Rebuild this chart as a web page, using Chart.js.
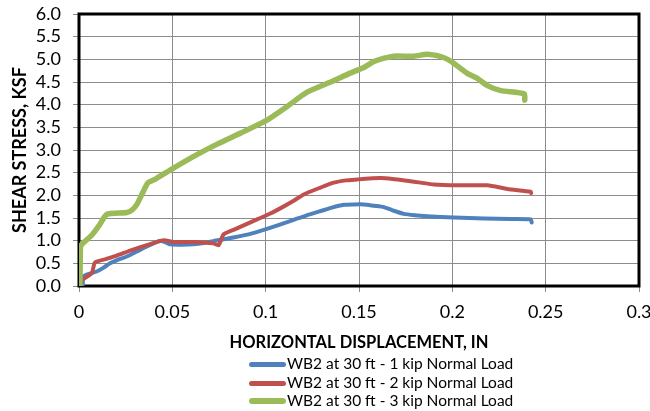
<!DOCTYPE html>
<html>
<head>
<meta charset="utf-8">
<script src="https://cdn.jsdelivr.net/npm/chart.js@4/dist/chart.umd.min.js"></script>
<style>
  html, body { margin: 0; padding: 0; background: #fff; }
  #wrap { position: relative; width: 650px; height: 411px; }
  #c { position: absolute; left: 0; top: 0; }
  .leg { position: absolute; left: 249px; font-family: Lato, "Open Sans", sans-serif; font-size: 15.5px; color: #000; white-space: nowrap; line-height: 18px; }
  .leg span.sw { display: inline-block; width: 37px; height: 5px; border-radius: 3px; vertical-align: middle; margin-right: 1px; position: relative; top: -1px; }
</style>
</head>
<body>
<div id="wrap">
  <canvas id="c" width="650" height="411"></canvas>
  <div id="legend"></div>
</div>
<script>
// ---- data ----
const seriesNames = [
  'WB2 at 30 ft - 1 kip Normal Load',
  'WB2 at 30 ft - 2 kip Normal Load',
  'WB2 at 30 ft - 3 kip Normal Load'
];
const seriesColors = ['#4F81BD', '#C0504D', '#9BBB59'];

const x1kip = [0.002, 0.0025, 0.0095, 0.013, 0.0166, 0.021, 0.0256, 0.031, 0.0363, 0.0405, 0.0435, 0.0465, 0.0488, 0.055, 0.0614, 0.067, 0.072, 0.0828, 0.0918, 0.1007, 0.108, 0.115, 0.122, 0.1293, 0.1355, 0.1418, 0.147, 0.1526, 0.158, 0.1633, 0.168, 0.174, 0.18, 0.1866, 0.2009, 0.217, 0.2313, 0.242, 0.2425];
const y1kip = [0.02, 0.22, 0.32, 0.40, 0.50, 0.58, 0.65, 0.76, 0.87, 0.95, 1.00, 0.96, 0.92, 0.91, 0.92, 0.95, 0.99, 1.07, 1.15, 1.26, 1.36, 1.46, 1.56, 1.65, 1.73, 1.79, 1.80, 1.80, 1.77, 1.74, 1.67, 1.59, 1.56, 1.54, 1.51, 1.49, 1.48, 1.47, 1.40];

const x2kip = [0.001, 0.0068, 0.0086, 0.0149, 0.0202, 0.0274, 0.0363, 0.0453, 0.0506, 0.0614, 0.072, 0.0748, 0.0775, 0.084, 0.09, 0.096, 0.1025, 0.109, 0.115, 0.1204, 0.1293, 0.1365, 0.143, 0.149, 0.1555, 0.1615, 0.168, 0.1758, 0.183, 0.19, 0.2027, 0.2188, 0.2295, 0.242, 0.2422];
const y2kip = [0.12, 0.28, 0.52, 0.60, 0.67, 0.78, 0.90, 1.01, 0.97, 0.97, 0.94, 0.90, 1.14, 1.26, 1.37, 1.48, 1.60, 1.74, 1.88, 2.02, 2.17, 2.28, 2.33, 2.35, 2.37, 2.38, 2.36, 2.32, 2.28, 2.24, 2.22, 2.22, 2.14, 2.08, 2.05];

const x3kip = [0.0005, 0.0008, 0.0015, 0.0068, 0.011, 0.0149, 0.0256, 0.0285, 0.031, 0.034, 0.037, 0.041, 0.0497, 0.061, 0.074, 0.0864, 0.1007, 0.1115, 0.122, 0.136, 0.145, 0.1526, 0.158, 0.163, 0.1687, 0.1794, 0.1866, 0.1938, 0.1975, 0.2009, 0.208, 0.2134, 0.2188, 0.226, 0.2385, 0.2388];
const y3kip = [0.0, 0.85, 0.92, 1.12, 1.35, 1.58, 1.62, 1.68, 1.80, 2.05, 2.28, 2.36, 2.58, 2.85, 3.13, 3.37, 3.66, 3.96, 4.27, 4.52, 4.69, 4.82, 4.95, 5.02, 5.07, 5.07, 5.11, 5.06, 5.00, 4.91, 4.69, 4.58, 4.42, 4.31, 4.24, 4.10];

const xTickLabels = ['0', '0.05', '0.1', '0.15', '0.2', '0.25', '0.3'];
const yTickLabels = ['0.0', '0.5', '1.0', '1.5', '2.0', '2.5', '3.0', '3.5', '4.0', '4.5', '5.0', '5.5', '6.0'];
const xTitle = 'HORIZONTAL DISPLACEMENT, IN';
const yTitle = 'SHEAR STRESS, KSF';

// ---- build ----
function pts(xs, ys) { return xs.map((x, i) => ({ x: x, y: ys[i] })); }
const seriesX = [x1kip, x2kip, x3kip];
const seriesY = [y1kip, y2kip, y3kip];
const widths = [4, 4, 5.5];

const datasets = seriesNames.map((n, i) => ({
  label: n,
  data: pts(seriesX[i], seriesY[i]),
  borderColor: seriesColors[i],
  backgroundColor: seriesColors[i],
  borderWidth: widths[i],
  showLine: true,
  pointRadius: 0,
  tension: 0.2,
  borderCapStyle: 'round',
  borderJoinStyle: 'round',
  order: 2 - i
}));

const framePlugin = {
  id: 'frame',
  beforeDatasetsDraw(chart) {
    const a = chart.chartArea, ctx = chart.ctx;
    ctx.save();
    ctx.strokeStyle = '#000';
    ctx.lineWidth = 3;
    ctx.strokeRect(a.left, a.top, a.right - a.left, a.bottom - a.top);
    ctx.restore();
  }
};

const tickFont = { family: 'Lato, "Open Sans", sans-serif', size: 18 };

new Chart(document.getElementById('c'), {
  type: 'scatter',
  data: { datasets: datasets },
  plugins: [framePlugin],
  options: {
    responsive: false,
    animation: false,
    layout: { padding: { top: 14, right: 11, left: 0, bottom: 0 } },
    plugins: { legend: { display: false }, tooltip: { enabled: false } },
    scales: {
      x: {
        type: 'linear', min: 0, max: 0.3,
        afterFit(s) { s.height = 125; s.paddingLeft = 0; s.paddingRight = 0; },
        afterBuildTicks(s) { s.ticks = xTickLabels.map(t => ({ value: parseFloat(t) })); },
        ticks: { font: tickFont, color: '#000', padding: 9, maxRotation: 0, autoSkip: false,
                 callback: (v, i) => xTickLabels[i] },
        grid: { color: '#8c8c8c', lineWidth: 1, tickLength: 6, tickColor: '#8c8c8c' },
        border: { display: false },
        title: { display: true, text: xTitle, color: '#000',
                 font: { family: 'Lato, "Open Sans", sans-serif', size: 16.5, weight: 'bold' },
                 padding: { top: 0, bottom: 58 } }
      },
      y: {
        type: 'linear', min: 0, max: 6,
        afterFit(s) { s.width = 79; s.paddingTop = 0; s.paddingBottom = 0; },
        afterBuildTicks(s) { s.ticks = yTickLabels.map(t => ({ value: parseFloat(t) })); },
        ticks: { font: tickFont, color: '#000', padding: 12, autoSkip: false,
                 callback: (v, i) => yTickLabels[i] },
        grid: { color: '#8c8c8c', lineWidth: 1, tickLength: 6, tickColor: '#8c8c8c' },
        border: { display: false },
        title: { display: true, text: yTitle, color: '#000',
                 font: { family: 'Lato, "Open Sans", sans-serif', size: 18, weight: 'bold' },
                 padding: { top: 9, bottom: 0 } }
      }
    }
  }
});

// HTML legend (stacked rows, like the reference)
const legendTops = [354, 373, 391];
const lg = document.getElementById('legend');
seriesNames.forEach((n, i) => {
  const d = document.createElement('div');
  d.className = 'leg';
  d.style.top = legendTops[i] + 'px';
  const sw = document.createElement('span');
  sw.className = 'sw';
  sw.style.background = seriesColors[i];
  sw.style.height = (i === 2 ? 6 : 5) + 'px';
  d.appendChild(sw);
  d.appendChild(document.createTextNode(n));
  lg.appendChild(d);
});
</script>
</body>
</html>
